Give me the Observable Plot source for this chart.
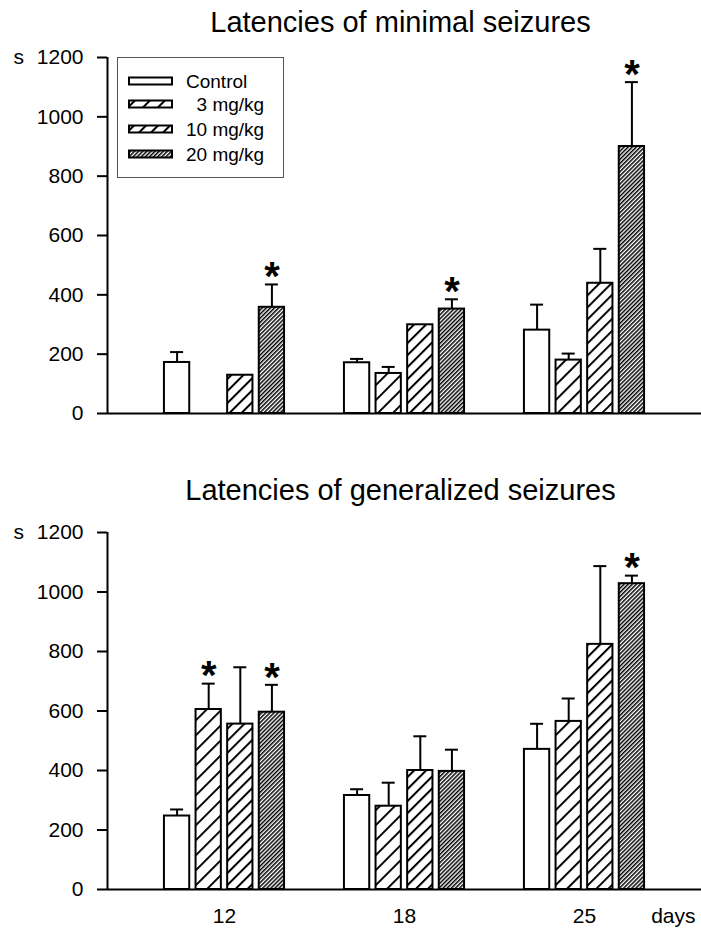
<!DOCTYPE html>
<html><head><meta charset="utf-8">
<script src="https://cdn.jsdelivr.net/npm/d3@7"></script>
<script src="https://cdn.jsdelivr.net/npm/@observablehq/plot@0.6"></script>
<style>
body{margin:0;background:#fff;font-family:"Liberation Sans",Arial,sans-serif;color:#000;}
#wrap{position:relative;width:701px;height:930px;overflow:hidden;background:#fff;}
.title{position:absolute;left:100px;width:601px;text-align:center;font-size:29px;line-height:29px;white-space:nowrap;}
.box{position:absolute;left:0;}
#legend{position:absolute;left:117px;top:57px;}
</style></head>
<body>
<svg width="0" height="0" style="position:absolute">
  <defs>
    <pattern id="p3" patternUnits="userSpaceOnUse" width="10.6" height="10.6" patternTransform="rotate(45)">
      <rect x="0" y="0" width="10.6" height="10.6" fill="white"/>
      <rect x="0" y="0" width="2" height="10.6" fill="black"/>
    </pattern>
    <pattern id="p10" patternUnits="userSpaceOnUse" width="8.5" height="8.5" patternTransform="rotate(45)">
      <rect x="0" y="0" width="8.5" height="8.5" fill="white"/>
      <rect x="0" y="0" width="2" height="8.5" fill="black"/>
    </pattern>
    <pattern id="p20" patternUnits="userSpaceOnUse" width="2.9" height="2.9" patternTransform="rotate(45)">
      <rect x="0" y="0" width="2.9" height="2.9" fill="white"/>
      <rect x="0" y="0" width="1.5" height="2.9" fill="black"/>
    </pattern>
  </defs>
</svg>
<div id="wrap">
  <div class="title" style="top:8px">Latencies of minimal seizures</div>
  <div class="box" id="c1" style="top:40px"></div>
  <div class="title" style="top:476px">Latencies of generalized seizures</div>
  <div class="box" id="c2" style="top:510px"></div>
  <div id="legend"></div>
</div>
<script>
// ---- data ----
const days = ["12", "18", "25"];
const doses = ["Control", "3 mg/kg", "10 mg/kg", "20 mg/kg"];
const yTicks = [0, 200, 400, 600, 800, 1000, 1200];

// Latencies of minimal seizures (s): means and top of error bars
const minControl = [172, 171, 281];
const min3 = [null, 135, 180];
const min10 = [129, 299, 439];
const min20 = [358, 352, 900];
const minControlErr = [207, 184, 367];
const min3Err = [null, 157, 202];
const min10Err = [null, null, 555];
const min20Err = [435, 385, 1117];
const minStars = [[0, 0, 0], [0, 0, 0], [0, 0, 0], [1, 1, 1]];

// Latencies of generalized seizures (s)
const genControl = [247, 316, 471];
const gen3 = [605, 280, 565];
const gen10 = [556, 400, 824];
const gen20 = [596, 397, 1028];
const genControlErr = [269, 337, 557];
const gen3Err = [692, 359, 642];
const gen10Err = [747, 515, 1087];
const gen20Err = [688, 470, 1055];
const genStars = [[0, 0, 0], [1, 0, 0], [0, 0, 0], [1, 0, 1]];

const fills = ["white", "url(#p3)", "url(#p10)", "url(#p20)"];

function rows(means, errs, stars) {
  const out = [];
  doses.forEach((dose, j) => days.forEach((day, g) => {
    const v = means[j][g];
    if (v == null) return;
    out.push({day, dose, g, j, v, e: errs[j][g], star: !!stars[j][g]});
  }));
  return out;
}

const XDOM = [-0.65, 2.65];
const STEP = 0.1756, BW = 0.1405;
const pos = d => d.g + (d.j - 1.5) * STEP;

function chart(data, {height, marginTop, marginBottom, bottomAxis}) {
  const err = data.filter(d => d.e != null);
  const marks = [
    ...doses.map((dose, j) => Plot.rectY(data.filter(d => d.j === j), {
      x1: d => pos(d) - BW / 2, x2: d => pos(d) + BW / 2, y1: 0, y2: "v",
      fill: fills[j], stroke: "black", strokeWidth: 2
    })),
    Plot.ruleX(err, {x: pos, y1: "v", y2: "e", stroke: "black", strokeWidth: 2}),
    Plot.ruleY(err, {y: "e", x1: pos, x2: pos, insetLeft: -6.5, insetRight: -6.5, stroke: "black", strokeWidth: 2}),
    Plot.text(data.filter(d => d.star), {x: pos, y: "e", text: () => "*", fontSize: 40, fontWeight: "bold", dy: -7}),
    Plot.ruleY([0], {stroke: "black", strokeWidth: 2}),
    Plot.ruleX([XDOM[0]], {stroke: "black", strokeWidth: 2}),
    Plot.axisY({ticks: yTicks, tickFormat: d => String(d), tickSize: 10, tickPadding: 14, fontSize: 21, strokeWidth: 2, label: null}),
    Plot.text(["s"], {frameAnchor: "top-left", lineAnchor: "middle", dx: -94, textAnchor: "start", fontSize: 21})
  ];
  if (bottomAxis) {
    marks.push(Plot.axisX({ticks: [0, 1, 2], tickFormat: i => days[i], tickSize: 0, tickPadding: 19, fontSize: 21, label: null}));
    marks.push(Plot.text(["days"], {frameAnchor: "bottom-right", textAnchor: "end", lineAnchor: "top", dx: -6, dy: 19, fontSize: 21}));
  }
  return Plot.plot({
    width: 701, height, marginTop, marginBottom, marginLeft: 107, marginRight: 0,
    style: {fontFamily: "'Liberation Sans', Arial, sans-serif", fontSize: "21px", background: "transparent", overflow: "visible", color: "black"},
    x: {domain: XDOM, axis: null},
    y: {domain: [0, 1200]},
    marks
  });
}

document.getElementById("c1").append(chart(
  rows([minControl, min3, min10, min20], [minControlErr, min3Err, min10Err, min20Err], minStars),
  {height: 390, marginTop: 17, marginBottom: 17, bottomAxis: false}));
document.getElementById("c2").append(chart(
  rows([genControl, gen3, gen10, gen20], [genControlErr, gen3Err, gen10Err, gen20Err], genStars),
  {height: 420, marginTop: 22, marginBottom: 41, bottomAxis: true}));

// ---- legend ----
const legendCenters = [81, 104, 129, 154];
const legendLabels = ["Control", "\u20073 mg/kg", "10 mg/kg", "20 mg/kg"];
const ns = "http://www.w3.org/2000/svg";
const lg = document.createElementNS(ns, "svg");
lg.setAttribute("width", 168); lg.setAttribute("height", 122);
lg.style.display = "block";
const frame = document.createElementNS(ns, "rect");
frame.setAttribute("x", 0.5); frame.setAttribute("y", 0.5);
frame.setAttribute("width", 166); frame.setAttribute("height", 120);
frame.setAttribute("fill", "white"); frame.setAttribute("stroke", "#555"); frame.setAttribute("stroke-width", 1);
lg.append(frame);
doses.forEach((dose, j) => {
  const c = legendCenters[j] - 57;
  const r = document.createElementNS(ns, "rect");
  r.setAttribute("x", 12); r.setAttribute("y", c - 3.5);
  r.setAttribute("width", 43); r.setAttribute("height", 7);
  r.setAttribute("fill", fills[j]); r.setAttribute("stroke", "black"); r.setAttribute("stroke-width", 2);
  lg.append(r);
  const t = document.createElementNS(ns, "text");
  t.setAttribute("x", 69); t.setAttribute("y", c + 6.5);
  t.setAttribute("font-size", 19);
  t.setAttribute("font-family", "'Liberation Sans', Arial, sans-serif");
  t.textContent = legendLabels[j];
  lg.append(t);
});
document.getElementById("legend").append(lg);
</script>
</body></html>
